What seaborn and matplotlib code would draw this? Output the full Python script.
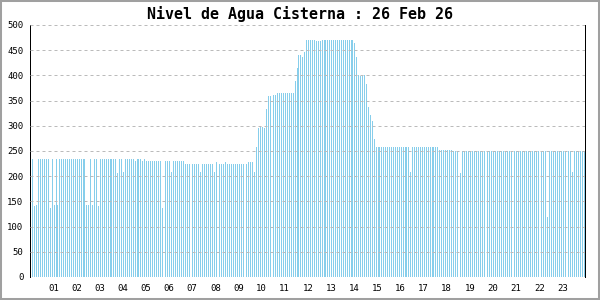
import numpy as np
import pandas as pd
import matplotlib
matplotlib.use("Agg")
import matplotlib.pyplot as plt
from matplotlib.patches import Rectangle
import seaborn as sns

# ---------------- data (water level readings every 5 minutes) ----------------
title = "Nivel de Agua Cisterna : 26 Feb 26"
sample_interval_min = 5
first_sample_min = 2

levels_00_05 = [
    208, 234, 141, 143, 234, 234, 234, 234, 234, 234, 137, 234,   # 00
    143, 234, 143, 234, 234, 234, 234, 234, 234, 234, 234, 234,   # 01
    234, 234, 234, 234, 234, 143, 143, 234, 143, 234, 234, 141,   # 02
    234, 234, 234, 234, 234, 234, 234, 234, 234, 207, 234, 234,   # 03
    209, 234, 234, 234, 234, 234, 230, 234, 234, 234, 230, 234,   # 04
    230, 230, 230, 230, 230, 230, 230, 230, 137, 209, 230, 230,   # 05
]
levels_06_11 = [
    230, 209, 230, 230, 230, 230, 230, 230, 224, 224, 224, 224,   # 06
    224, 224, 224, 224, 209, 224, 224, 224, 224, 224, 224, 209,   # 07
    228, 224, 224, 224, 224, 228, 224, 224, 224, 224, 224, 224,   # 08
    224, 224, 224, 224, 224, 228, 228, 228, 209, 258, 296, 298,   # 09
    298, 296, 333, 359, 359, 361, 361, 361, 365, 365, 365, 365,   # 10
    365, 365, 365, 365, 365, 389, 415, 440, 440, 437, 446, 470,   # 11
]
levels_12_17 = [
    470, 470, 470, 470, 468, 468, 468, 470, 470, 470, 470, 470,   # 12
    470, 470, 470, 470, 470, 470, 470, 470, 470, 470, 470, 470,   # 13
    464, 437, 401, 399, 399, 401, 383, 337, 321, 309, 274, 258,   # 14
    258, 258, 258, 258, 258, 258, 258, 258, 258, 258, 258, 258,   # 15
    258, 258, 258, 258, 258, 208, 258, 258, 258, 258, 258, 258,   # 16
    258, 258, 258, 258, 258, 258, 258, 258, 252, 252, 252, 252,   # 17
]
levels_18_23 = [
    252, 252, 252, 250, 250, 250, 250, 206, 250, 250, 250, 250,   # 18
    250, 250, 250, 250, 250, 250, 250, 250, 250, 250, 250, 250,   # 19
    250, 250, 250, 250, 250, 250, 250, 250, 250, 250, 250, 250,   # 20
    250, 250, 250, 250, 250, 250, 250, 250, 250, 250, 250, 250,   # 21
    250, 250, 250, 250, 119, 250, 250, 250, 250, 250, 250, 250,   # 22
    250, 250, 250, 250, 250, 208, 250, 250, 250, 250, 250, 250,   # 23
]
hour_ticks = list(range(1, 24))
hour_labels = ["%02d" % h for h in hour_ticks]
y_ticks = list(range(0, 501, 50))

levels = levels_00_05 + levels_06_11 + levels_12_17 + levels_18_23
minutes = first_sample_min + sample_interval_min * np.arange(len(levels))
df = pd.DataFrame({"hour": minutes / 60.0, "level": levels})

# ---------------- figure ----------------
sns.set_style("white")
plt.rcParams["font.family"] = ["DejaVu Sans Mono", "DejaVu Sans"]

W, H = 600, 300
fig = plt.figure(figsize=(6, 3), dpi=100)
fig.patch.set_facecolor("white")
x0, x1 = 30.2, 585.5
ytop, ybot = 25, 277
ax = fig.add_axes([x0 / W, (H - ybot) / H, (x1 - x0) / W, (ybot - ytop) / H])

sns.barplot(data=df, x="hour", y="level", native_scale=True, color="#87ceeb",
            saturation=1, width=0.5, errorbar=None, linewidth=0,
            antialiased=False, ax=ax)

ax.set_xlim(0, 24)
ax.set_ylim(0, 500)
ax.set_xlabel("")
ax.set_ylabel("")
ax.set_xticks(hour_ticks)
ax.set_xticklabels(hour_labels)
ax.set_yticks(y_ticks)
ax.set_yticklabels([str(v) for v in y_ticks])

px = 0.72
ax.yaxis.grid(True, color="#bbbbbb", linestyle=(0, (3, 3)), linewidth=px)
ax.xaxis.grid(False)
ax.set_axisbelow(False)

for s in ["top", "bottom"]:
    ax.spines[s].set_visible(False)
for s in ["left", "right"]:
    ax.spines[s].set_color("black")
    ax.spines[s].set_linewidth(px)
ax.axhline(0, color="black", linewidth=px, linestyle=(0, (1, 1)), zorder=3)

ax.tick_params(axis="both", direction="inout", length=6, width=px,
               color="black", labelsize=6.5, labelcolor="black", pad=2)
ax.tick_params(axis="y", right=False)

fig.text(0.5, 1 - 13.5 / H, title, ha="center", va="center",
         fontsize=10.8, fontweight="bold", color="black",
         family=["DejaVu Sans Mono", "DejaVu Sans"])

fig.patches.append(Rectangle((0, 0), 1, 1, transform=fig.transFigure,
                             fill=False, edgecolor="#a0a0a0", linewidth=2.9))

fig.savefig("out.png", dpi=100)
